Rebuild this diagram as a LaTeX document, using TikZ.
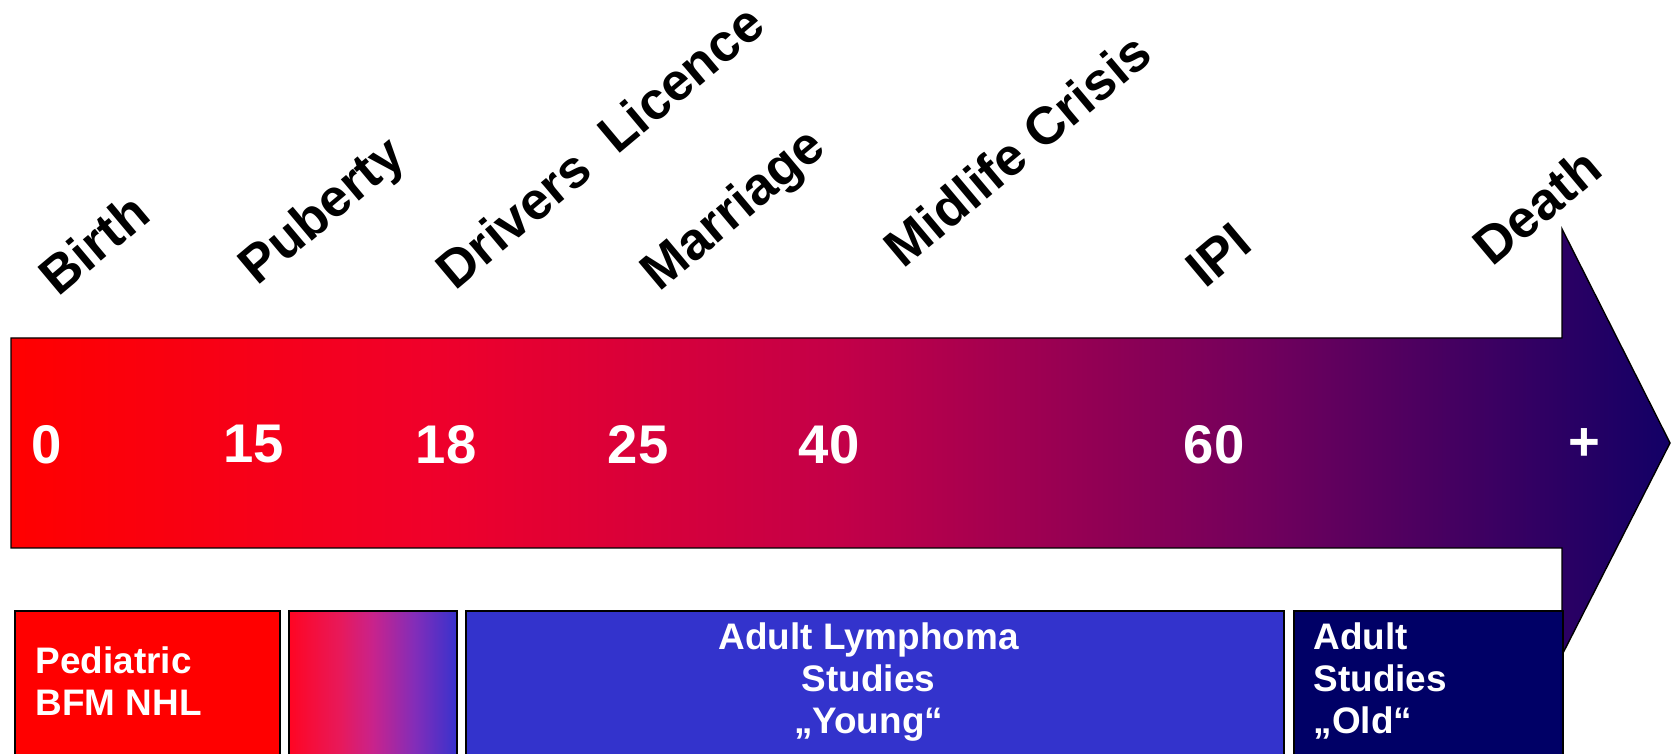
\documentclass[tikz,border=0pt]{standalone}
\usepackage{fontspec}
\setmainfont{Liberation Sans}
\usetikzlibrary{positioning}

\definecolor{pedRed}{RGB}{255,0,0}
\definecolor{youngBlue}{RGB}{51,51,204}
\definecolor{oldNavy}{RGB}{0,0,102}
\definecolor{lifeB}{RGB}{240,0,42}
\definecolor{lifeC}{RGB}{195,0,72}
\definecolor{lifeD}{RGB}{115,0,92}
\definecolor{lifeE}{RGB}{18,0,102}
\definecolor{teenA}{RGB}{255,5,35}
\definecolor{teenB}{RGB}{232,25,90}
\definecolor{teenC}{RGB}{200,35,140}
\definecolor{teenD}{RGB}{130,45,185}
\definecolor{teenE}{RGB}{55,50,205}

\pgfdeclarehorizontalshading{lifeshade}{100bp}{color(0bp)=(pedRed); color(25bp)=(pedRed); color(37.5bp)=(lifeB); color(50bp)=(lifeC); color(62.5bp)=(lifeD); color(75bp)=(lifeE); color(100bp)=(lifeE)}
\pgfdeclarehorizontalshading{teenshade}{100bp}{color(0bp)=(teenA); color(25bp)=(teenA); color(40bp)=(teenB); color(50bp)=(teenC); color(62.5bp)=(teenD); color(75bp)=(teenE); color(100bp)=(teenE)}

\tikzstyle{evS}=[rotate=40, anchor=base west, inner sep=0pt, font=\fontsize{15}{18}\selectfont\bfseries]
\tikzstyle{ageS}=[text=white, inner sep=0pt, font=\fontsize{15.5}{18}\selectfont\bfseries]
\tikzstyle{boxS}=[draw=black, line width=0.6pt, anchor=north west, minimum height=1.54cm, inner sep=0pt]
\tikzstyle{boxT}=[text=white, inner sep=0pt, font=\fontsize{10.5}{12}\selectfont\bfseries]

\begin{document}
\begin{tikzpicture}
    \useasboundingbox (0,0) rectangle (16.72,7.54);
    % life arrow
    \shadedraw[shading=lifeshade, line width=0.4pt] (0.11,2.06) -- (0.11,4.16) -- (15.62,4.16) -- (15.62,5.25)
        -- (16.70,3.11) -- (15.62,0.99) -- (15.62,2.06) -- cycle;
    % study groups
    \draw (0.14,1.44) node[boxS, fill=pedRed, minimum width=2.65cm] (ped) {};
    \draw (2.88,1.44) node[boxS, shade, shading=teenshade, minimum width=1.68cm] (teen) {};
    \draw (4.65,1.44) node[boxS, fill=youngBlue, minimum width=8.18cm] (young) {};
    \draw (12.93,1.44) node[boxS, fill=oldNavy, minimum width=2.69cm] (old) {};
    \node[boxT, align=left, below right=0.36cm and 0.21cm of ped.north west] (pedT) {Pediatric\\BFM NHL};
    \node[boxT, align=center, below=0.12cm of young.north, xshift=-0.065cm] (youngT) {Adult Lymphoma\\Studies\\„Young“};
    \node[boxT, align=left, below right=0.12cm and 0.2cm of old.north west] (oldT) {Adult\\Studies\\„Old“};
    % ages
    \draw (0.47,3.095) node[ageS] (a0) {0};
    \draw (2.54,3.095) node[ageS] (a15) {15};
    \draw (4.46,3.095) node[ageS] (a18) {18};
    \draw (6.38,3.095) node[ageS] (a25) {25};
    \draw (8.29,3.095) node[ageS] (a40) {40};
    \draw (12.14,3.095) node[ageS] (a60) {60};
    \draw (15.84,3.095) node[ageS] (aplus) {+};
    % events
    \draw (0.58,4.56) node[evS] (birth) {Birth};
    \draw (2.57,4.67) node[evS] (puberty) {Puberty};
    \draw (4.55,4.62) node[evS] (licence) {Drivers\ \ Licence};
    \draw (6.59,4.61) node[evS] (marriage) {Marriage};
    \draw (9.03,4.84) node[evS] (midlife) {Midlife Crisis};
    \draw (12.05,4.64) node[evS] (ipi) {IPI};
    \draw (14.92,4.86) node[evS] (death) {Death};
\end{tikzpicture}
\end{document}
